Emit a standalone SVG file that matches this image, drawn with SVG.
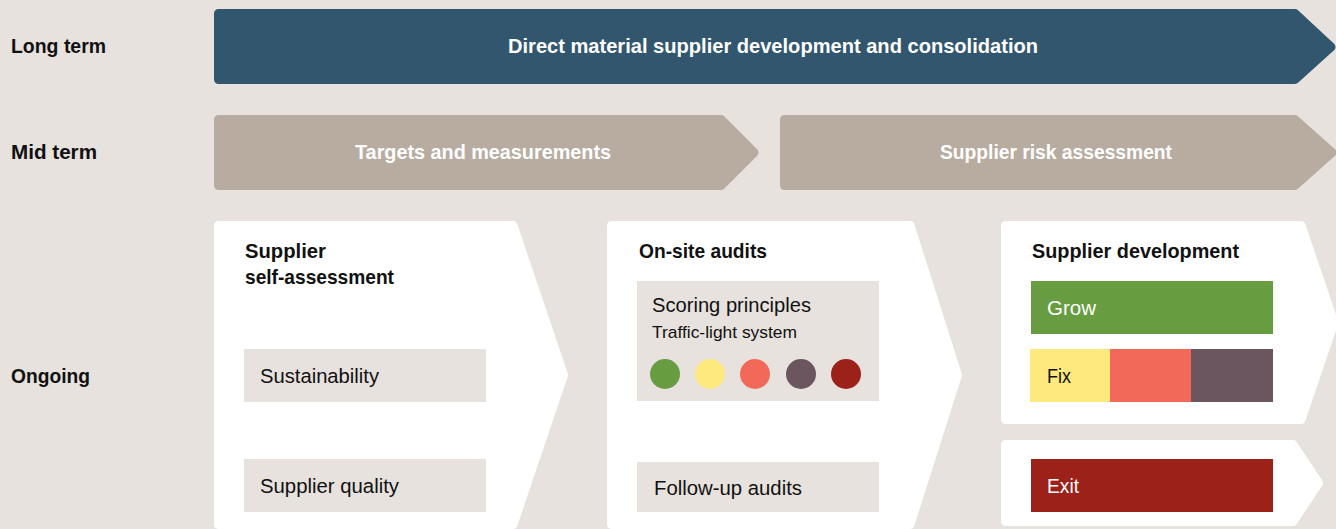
<svg xmlns="http://www.w3.org/2000/svg" width="1336" height="529" viewBox="0 0 1336 529">
<style>
.bg{fill:#e7e2de}
.sh{stroke-linejoin:round;stroke-width:9}
.blue{fill:#31566e;stroke:#31566e}
.tan{fill:#b8aca1;stroke:#b8aca1}
.wh{fill:#ffffff;stroke:#ffffff}
.lbl{font-family:"Liberation Sans",Arial,sans-serif;font-weight:bold;font-size:20.5px;fill:#111}
.hd{font-family:"Liberation Sans",Arial,sans-serif;font-weight:bold;font-size:20.5px;fill:#fff;text-anchor:middle}
.t{font-family:"Liberation Sans",Arial,sans-serif;font-size:20.5px;fill:#111}
.tw{font-family:"Liberation Sans",Arial,sans-serif;font-size:20.5px;fill:#fff}
.gr{fill:#e7e2de}
</style>
<rect class="bg" x="0" y="0" width="1336" height="529"/>
<g id="row-labels">
<text class="lbl" x="11" y="53" textLength="95" lengthAdjust="spacingAndGlyphs">Long term</text>
<text class="lbl" x="11" y="159" textLength="86" lengthAdjust="spacingAndGlyphs">Mid term</text>
<text class="lbl" x="11" y="383" textLength="79" lengthAdjust="spacingAndGlyphs">Ongoing</text>
</g>
<g id="long-term">
<path class="sh blue" d="M218.5,13.5 H1295 L1331,47 L1295,79.5 H218.5 Z"/>
<text class="hd" x="773" y="53" textLength="530" lengthAdjust="spacingAndGlyphs">Direct material supplier development and consolidation</text>
</g>
<g id="targets">
<path class="sh tan" d="M218.5,119.5 H721 L754,152.5 L721,185.5 H218.5 Z"/>
<text class="hd" x="483" y="159" textLength="256" lengthAdjust="spacingAndGlyphs">Targets and measurements</text>
</g>
<g id="risk">
<path class="sh tan" d="M784.5,119.5 H1295 L1332,152.5 L1295,185.5 H784.5 Z"/>
<text class="hd" x="1056" y="159" textLength="232" lengthAdjust="spacingAndGlyphs">Supplier risk assessment</text>
</g>
<g id="self-assessment">
<path class="sh wh" d="M218.5,225.5 H513 L563.5,375 L513,524.5 H218.5 Z"/>
<text class="lbl" x="245" y="258" textLength="81" lengthAdjust="spacingAndGlyphs">Supplier</text>
<text class="lbl" x="245" y="284" textLength="149" lengthAdjust="spacingAndGlyphs">self-assessment</text>
<rect class="gr" x="244" y="349" width="242" height="53"/>
<text class="t" x="260" y="383" textLength="119" lengthAdjust="spacingAndGlyphs">Sustainability</text>
<rect class="gr" x="244" y="459" width="242" height="53"/>
<text class="t" x="260" y="493" textLength="139" lengthAdjust="spacingAndGlyphs">Supplier quality</text>
</g>
<g id="on-site-audits">
<path class="sh wh" d="M611.5,225.5 H910 L957.5,375 L910,524.5 H611.5 Z"/>
<text class="lbl" x="639" y="258" textLength="128" lengthAdjust="spacingAndGlyphs">On-site audits</text>
<rect class="gr" x="637" y="281" width="242" height="120"/>
<text class="t" x="652" y="312" textLength="159" lengthAdjust="spacingAndGlyphs">Scoring principles</text>
<text class="t" x="652" y="338" style="font-size:17px" textLength="145" lengthAdjust="spacingAndGlyphs">Traffic-light system</text>
<circle cx="665" cy="374" r="15" fill="#679c40"/>
<circle cx="710" cy="374" r="15" fill="#fee97e"/>
<circle cx="755" cy="374" r="15" fill="#f2695a"/>
<circle cx="801" cy="374" r="15" fill="#6b555f"/>
<circle cx="846" cy="374" r="15" fill="#9c2118"/>
<rect class="gr" x="637" y="462" width="242" height="50"/>
<text class="t" x="654" y="495" textLength="148" lengthAdjust="spacingAndGlyphs">Follow-up audits</text>
</g>
<g id="supplier-development">
<path class="sh wh" d="M1005.5,225.5 H1301 L1334,322.5 L1301,419.5 H1005.5 Z"/>
<text class="lbl" x="1032" y="258" textLength="207" lengthAdjust="spacingAndGlyphs">Supplier development</text>
<rect x="1031" y="281" width="242" height="53" fill="#679c40"/>
<text class="tw" x="1047" y="315" textLength="49" lengthAdjust="spacingAndGlyphs">Grow</text>
<rect x="1030" y="349" width="80" height="53" fill="#fee97e"/>
<rect x="1110" y="349" width="81" height="53" fill="#f2695a"/>
<rect x="1191" y="349" width="82" height="53" fill="#6b555f"/>
<text class="t" x="1047" y="383" textLength="24" lengthAdjust="spacingAndGlyphs">Fix</text>
</g>
<g id="exit">
<path class="sh wh" d="M1005.5,444.5 H1293 L1318.5,483 L1293,521.5 H1005.5 Z"/>
<rect x="1031" y="459" width="242" height="53" fill="#9c2118"/>
<text class="tw" x="1047" y="493" textLength="32" lengthAdjust="spacingAndGlyphs">Exit</text>
</g>
<g id="connectors"/>
</svg>
